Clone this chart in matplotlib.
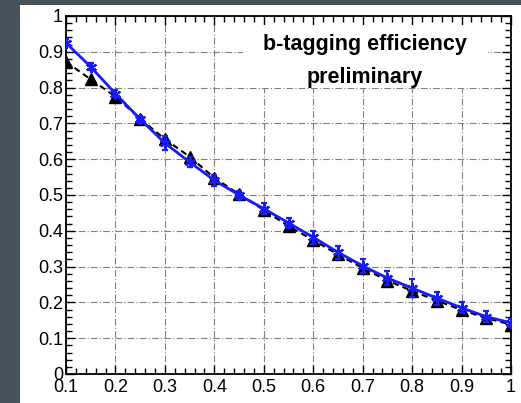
import matplotlib
matplotlib.use("Agg")
import matplotlib.pyplot as plt
from matplotlib.patches import Rectangle
from matplotlib.ticker import MultipleLocator

# cut values and efficiencies
cut = [0.1, 0.15, 0.2, 0.25, 0.3, 0.35, 0.4, 0.45, 0.5, 0.55,
       0.6, 0.65, 0.7, 0.75, 0.8, 0.85, 0.9, 0.95, 1.0]
eff_black = [0.872, 0.823, 0.775, 0.713, 0.656, 0.607, 0.548, 0.502, 0.458, 0.413,
             0.374, 0.334, 0.296, 0.261, 0.232, 0.205, 0.179, 0.156, 0.138]
eff_blue = [0.925, 0.858, 0.783, 0.712, 0.645, 0.592, 0.541, 0.500, 0.462, 0.422,
            0.382, 0.340, 0.302, 0.268, 0.240, 0.212, 0.185, 0.160, 0.143]
err_blue = [0.010, 0.010, 0.010, 0.010, 0.020, 0.015, 0.015, 0.012, 0.015, 0.015,
            0.018, 0.018, 0.020, 0.020, 0.025, 0.018, 0.015, 0.015, 0.012]

plt.rcParams['font.family'] = ['Liberation Sans', 'DejaVu Sans']

fig = plt.figure(figsize=(5.21, 4.03), dpi=100)
fig.patch.set_facecolor('#48525a')
# white canvas panel
fig.patches.append(Rectangle((20 / 521, 0), 1 - 20 / 521, 1 - 5 / 403,
                             transform=fig.transFigure, facecolor='white',
                             edgecolor='none', zorder=-5))

ax = fig.add_axes([66 / 521, 1 - 374 / 403, 445 / 521, 358 / 403])
ax.set_zorder(1)
ax.set_xlim(0.1, 1.0)
ax.set_ylim(0, 1)
ax.set_axisbelow(True)

ax.xaxis.set_major_locator(MultipleLocator(0.1))
ax.xaxis.set_minor_locator(MultipleLocator(0.02))
ax.yaxis.set_major_locator(MultipleLocator(0.1))
ax.yaxis.set_minor_locator(MultipleLocator(0.02))
ax.xaxis.set_major_formatter(lambda v, p: ('%g' % round(v, 2)))
ax.yaxis.set_major_formatter(lambda v, p: ('%g' % round(v, 2)))
ax.tick_params(which='both', direction='in', top=True, right=True,
               labelsize=13, width=1.0)
ax.tick_params(which='major', length=6.5, pad=2.2)
ax.tick_params(which='minor', length=4)
ax.tick_params(axis='x', pad=3.5)
for s in ax.spines.values():
    s.set_linewidth(1.3)

ax.grid(True, which='major', color='#808080', linewidth=0.8,
        linestyle=(0, (6, 2, 1, 2)))

# white box behind the label
ax.add_patch(Rectangle((0.458, 0.80), 0.495, 0.175, facecolor='white',
                       edgecolor='none', zorder=1))

ax.plot(cut, eff_black, color='black', linestyle=(0, (3, 2)), linewidth=1.5,
        marker='^', markersize=8, zorder=2)
ax.errorbar(cut, eff_blue, yerr=err_blue, color='#1a1aff', linewidth=2,
            marker=(6, 2, 0), markersize=8, markeredgewidth=1.6,
            elinewidth=1.5, capsize=2.5, capthick=1.2, zorder=3)

ax.text(0.705, 0.919, 'b-tagging efficiency', ha='center', va='center',
        fontsize=15.5, fontweight='bold', zorder=4)
ax.text(0.705, 0.827, 'preliminary', ha='center', va='center',
        fontsize=15.5, fontweight='bold', zorder=4)

fig.savefig('out.png', dpi=100, facecolor=fig.get_facecolor())
